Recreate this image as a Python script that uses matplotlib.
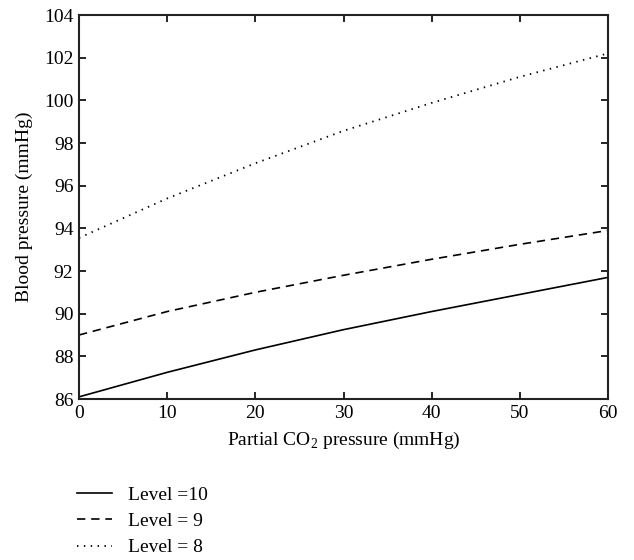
import matplotlib
matplotlib.use("Agg")
import matplotlib.pyplot as plt

plt.rcParams['font.family'] = ['Liberation Serif', 'DejaVu Serif']
plt.rcParams['mathtext.fontset'] = 'custom'
plt.rcParams['mathtext.rm'] = 'Liberation Serif'

co2 = [0, 10, 20, 30, 40, 50, 60]
level10 = [86.1, 87.25, 88.3, 89.25, 90.1, 90.9, 91.7]
level9 = [89.0, 90.1, 91.0, 91.8, 92.55, 93.25, 93.9]
level8 = [93.55, 95.4, 97.05, 98.57, 99.88, 101.1, 102.2]
labels = ["Level =10", "Level = 9", "Level = 8"]

fig = plt.figure(figsize=(6.34, 5.6), dpi=100)
ax = fig.add_axes([79/634, 1-399/560, (608-79)/634, (399-15)/560])

l1, = ax.plot(co2, level10, color='black', lw=1.2, linestyle='-')
l2, = ax.plot(co2, level9, color='black', lw=1.2, linestyle=(0, (5, 3.5)))
l3, = ax.plot(co2, level8, color='black', lw=1.3, linestyle=(0, (0.8, 3.0)))

ax.set_xlim(0, 60)
ax.set_ylim(86, 104)
ax.set_xticks(range(0, 61, 10))
ax.set_yticks(range(86, 105, 2))
ax.tick_params(direction='in', top=True, right=True, length=5, width=1.2,
               labelsize=14, pad=4)
for s in ax.spines.values():
    s.set_linewidth(1.5)
    s.set_color('#222222')

ax.set_xlabel("Partial CO$_2$ pressure (mmHg)", fontsize=14, labelpad=6)
ax.set_ylabel("Blood pressure (mmHg)", fontsize=14, labelpad=8)

fig.legend([l1, l2, l3], labels, loc='upper left', bbox_to_anchor=(77/634, 1-486/560),
           frameon=False, fontsize=14, handlelength=1.8, labelspacing=0.45,
           handletextpad=0.8, borderaxespad=0, borderpad=0)

fig.savefig("out.png", dpi=100)
